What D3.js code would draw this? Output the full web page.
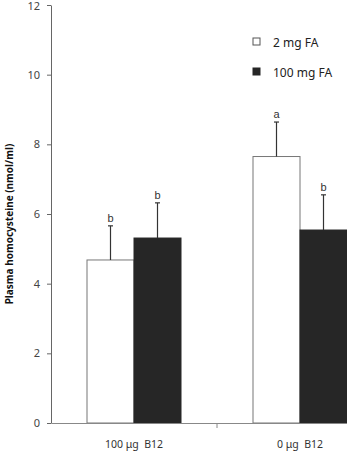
<!DOCTYPE html>
<html><head><meta charset="utf-8">
<script src="https://cdn.jsdelivr.net/npm/d3@7"></script>
<style>body{margin:0;background:#fff;overflow:hidden}svg{display:block}text{white-space:pre}</style>
</head><body>
<svg id="c" width="347" height="452"></svg>
<script>
const groups = ["100 μg  B12", "0 μg  B12"];
const series = ["2 mg FA", "100 mg FA"];
const means = [[4.68, 5.31], [7.65, 5.54]];
const errs = [[0.98, 1.01], [0.99, 1.01]];
const letters = [["b", "b"], ["a", "b"]];
const yTicks = [0, 2, 4, 6, 8, 10, 12];
const colors = ["#ffffff", "#262626"];

const svg = d3.select("#c");
const font = "'Noto Sans', 'DejaVu Sans', sans-serif";
const x0 = d3.scaleBand().domain(groups).range([51, 383]).paddingInner(0).paddingOuter(0);
const x1 = d3.scaleBand().domain(series).range([0, 94]);
const y = d3.scaleLinear().domain([0, 12]).range([423, 5]);
const off = (x0.bandwidth() - 94) / 2;

// bars
groups.forEach((g, gi) => {
  series.forEach((s, si) => {
    const bx = x0(g) + off + x1(s);
    const cx = bx + x1.bandwidth() / 2;
    svg.append("rect").attr("x", bx).attr("y", y(means[gi][si]))
      .attr("width", x1.bandwidth()).attr("height", y(0) - y(means[gi][si]))
      .attr("fill", colors[si]).attr("stroke", si === 0 ? "#777" : "#262626").attr("stroke-width", 1);
    const top = y(means[gi][si] + errs[gi][si]);
    svg.append("line").attr("x1", cx).attr("x2", cx).attr("y1", y(means[gi][si])).attr("y2", top)
      .attr("stroke", "#333").attr("stroke-width", 1.2);
    svg.append("line").attr("x1", cx - 2.5).attr("x2", cx + 2.5).attr("y1", top).attr("y2", top)
      .attr("stroke", "#333").attr("stroke-width", 1.2);
    svg.append("text").attr("x", cx).attr("y", top - 4).attr("text-anchor", "middle")
      .attr("font-family", "Arial, 'Liberation Sans', sans-serif").attr("font-size", 11).attr("fill", "#333")
      .text(letters[gi][si]);
  });
});

// y axis
const ya = svg.append("g").attr("transform", "translate(51,0)")
  .call(d3.axisLeft(y).tickValues(yTicks).tickFormat(d3.format("d")).tickSize(4).tickSizeOuter(0).tickPadding(7));
ya.select(".domain").attr("stroke", "#666");
ya.selectAll(".tick line").attr("stroke", "#666");
ya.selectAll("text").attr("font-family", font).attr("font-size", 11).attr("fill", "#444");
ya.selectAll(".tick").filter(d => d === 12).select("text").attr("dy", "0.45em");

// x axis
const xa = svg.append("g").attr("transform", "translate(0,423)")
  .call(d3.axisBottom(x0).tickSize(0).tickSizeOuter(0).tickPadding(18));
xa.select(".domain").attr("stroke", "#888");
xa.selectAll("text").attr("font-family", font).attr("font-size", 10.5).attr("fill", "#333")
  .style("white-space", "pre").attr("xml:space", "preserve");
// separator tick between groups
svg.append("line").attr("x1", x0(groups[1])).attr("x2", x0(groups[1])).attr("y1", 423).attr("y2", 428).attr("stroke", "#888");

// y label
svg.append("text").attr("transform", "translate(13,224) rotate(-90)").attr("text-anchor", "middle")
  .attr("font-family", font).attr("font-size", 10).attr("font-weight", "bold").attr("fill", "#111")
  .text("Plasma homocysteine (nmol/ml)");

// legend
series.forEach((s, i) => {
  const ly = 42 + i * 30;
  svg.append("rect").attr("x", 253).attr("y", ly - 4).attr("width", 7).attr("height", 7)
    .attr("fill", colors[i]).attr("stroke", i === 0 ? "#555" : "#262626");
  svg.append("text").attr("x", 273).attr("y", ly + 5).attr("font-family", font).attr("font-size", 12).attr("fill", "#222").text(s);
});
</script>
</body></html>
